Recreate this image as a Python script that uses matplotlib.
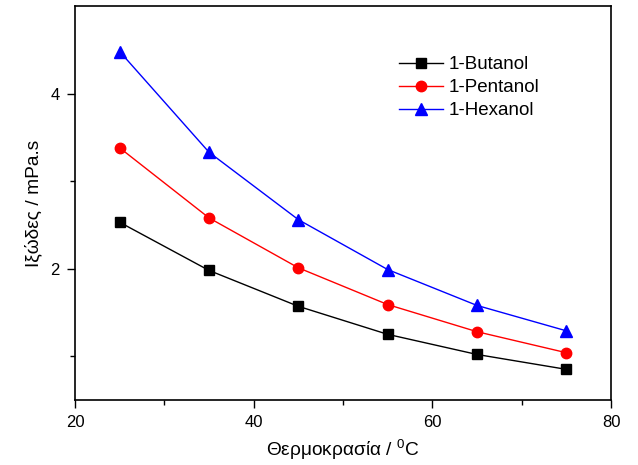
import numpy as np
import matplotlib
matplotlib.use("Agg")
import matplotlib.pyplot as plt

plt.rcParams['font.family'] = ['Liberation Sans', 'DejaVu Sans']
plt.rcParams['mathtext.fontset'] = 'custom'
plt.rcParams['mathtext.rm'] = 'Liberation Sans'

temp = [25, 35, 45, 55, 65, 75]
butanol = [2.53, 1.98, 1.57, 1.25, 1.02, 0.85]
pentanol = [3.38, 2.58, 2.01, 1.59, 1.28, 1.04]
hexanol = [4.48, 3.33, 2.56, 1.99, 1.58, 1.29]

fig = plt.figure(figsize=(6.38, 4.65), dpi=100)
ax = fig.add_axes([0.1176, 0.1398, 0.8401, 0.8472])

ax.plot(temp, butanol, color='black', marker='s', markersize=7, lw=1, label='1-Butanol')
ax.plot(temp, pentanol, color='red', marker='o', markersize=7.5, lw=1, label='1-Pentanol')
ax.plot(temp, hexanol, color='blue', marker='^', markersize=8.5, lw=1, label='1-Hexanol')

ax.set_xlim(20, 80)
ax.set_ylim(0.5, 5.0)
ax.set_xticks([20, 40, 60, 80])
ax.set_xticks([30, 50, 70], minor=True)
ax.set_yticks([2, 4])
ax.set_yticks([1, 3], minor=True)
ax.tick_params(which='major', direction='out', length=6, width=1, labelsize=12, pad=5)
ax.tick_params(which='minor', direction='out', length=3.5, width=1)
for s in ax.spines.values():
    s.set_linewidth(1.2)

ax.set_xlabel('Θερμοκρασία / $^{0}$C', fontsize=13.8, labelpad=5)
ax.set_ylabel('Ιξώδες / mPa.s', fontsize=13.8, labelpad=6)

ax.legend(loc='upper left', bbox_to_anchor=(0.59, 0.892), frameon=False,
          fontsize=13.5, handlelength=2.35, labelspacing=0.32, handletextpad=0.3,
          borderaxespad=0)

fig.savefig('out.png', dpi=100)
